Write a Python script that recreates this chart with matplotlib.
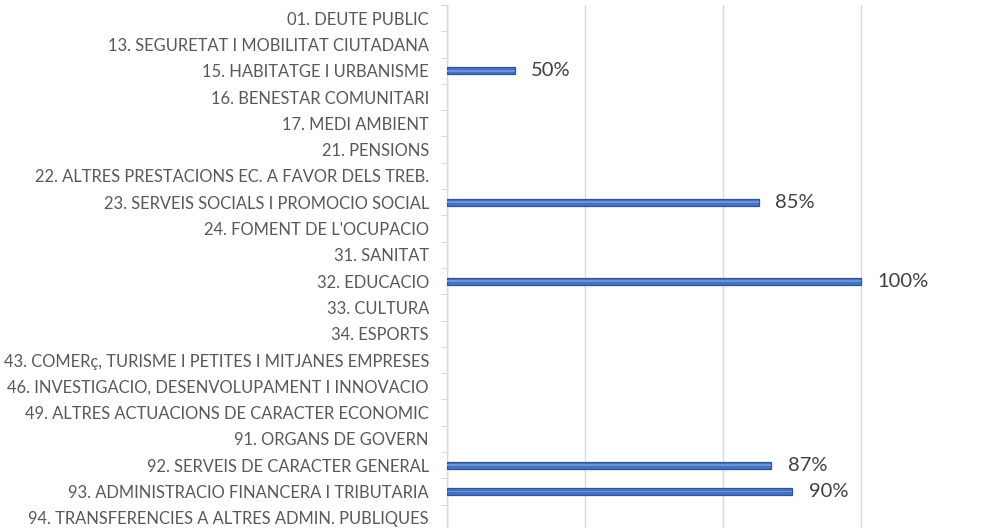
import matplotlib
matplotlib.use("Agg")
import matplotlib.pyplot as plt
import numpy as np

categories = [
    "01. DEUTE PUBLIC",
    "13. SEGURETAT I MOBILITAT CIUTADANA",
    "15. HABITATGE I URBANISME",
    "16. BENESTAR COMUNITARI",
    "17. MEDI AMBIENT",
    "21. PENSIONS",
    "22. ALTRES PRESTACIONS EC. A FAVOR DELS TREB.",
    "23. SERVEIS SOCIALS I PROMOCIO SOCIAL",
    "24. FOMENT DE L'OCUPACIO",
    "31. SANITAT",
    "32. EDUCACIO",
    "33. CULTURA",
    "34. ESPORTS",
    "43. COMERç, TURISME I PETITES I MITJANES EMPRESES",
    "46. INVESTIGACIO, DESENVOLUPAMENT I INNOVACIO",
    "49. ALTRES ACTUACIONS DE CARACTER ECONOMIC",
    "91. ORGANS DE GOVERN",
    "92. SERVEIS DE CARACTER GENERAL",
    "93. ADMINISTRACIO FINANCERA I TRIBUTARIA",
    "94. TRANSFERENCIES A ALTRES ADMIN. PUBLIQUES",
]
# bar lengths (in gridline units)
bar_values = [0, 0, 0.49, 0, 0, 0, 0, 2.26, 0, 0, 3.0, 0, 0, 0, 0, 0, 0, 2.35, 2.5, 0]
# data labels shown next to the bars
bar_labels = ["", "", "50%", "", "", "", "", "85%", "", "", "100%", "", "", "", "", "", "", "87%", "90%", ""]
grid_ticks = [0, 1, 2, 3]

plt.rcParams['font.family'] = ['Lato', 'DejaVu Sans']

fig = plt.figure(figsize=(9.92, 5.28), dpi=100)
W, H = 992, 528
left, top = 447, 5
row = 26.3
bottom = top + row * len(categories)
xmax = 3.6
unit = 138.0
ax = fig.add_axes([left / W, 1 - bottom / H, xmax * unit / W, (bottom - top) / H])

y = np.arange(len(categories))
vals = np.array(bar_values)
nz = vals > 0
ax.barh(y[nz], vals[nz], height=0.27, color="#4472C4", edgecolor="#2F5597", linewidth=0.9, zorder=3)
ax.barh(y[nz], vals[nz], height=0.06, color="#6f93d6", linewidth=0, zorder=4)

for yi, v, lab in zip(y, bar_values, bar_labels):
    if lab:
        ax.text(v + 0.12, yi, lab, va="center", ha="left", fontsize=14.5, color="#404040")

ax.set_ylim(len(categories) - 0.5, -0.5)
ax.set_xlim(0, xmax)
ax.set_yticks(y)
ax.set_yticklabels(categories, fontsize=11.9, color="#595959")
ax.set_yticks(np.arange(-0.5, len(categories) + 0.5, 1), minor=True)
ax.tick_params(axis="y", which="major", length=0, pad=13)
ax.tick_params(axis="y", which="minor", length=4, color="#d9d9d9", width=0.8)
ax.set_xticks(grid_ticks)
ax.tick_params(axis="x", length=0, labelbottom=False)
ax.grid(axis="x", color="#d9d9d9", linewidth=1.0, zorder=0)
for s in ["top", "right", "bottom"]:
    ax.spines[s].set_visible(False)
ax.spines["left"].set_color("#d9d9d9")
ax.spines["left"].set_linewidth(1.0)

fig.savefig("out.png", dpi=100)
